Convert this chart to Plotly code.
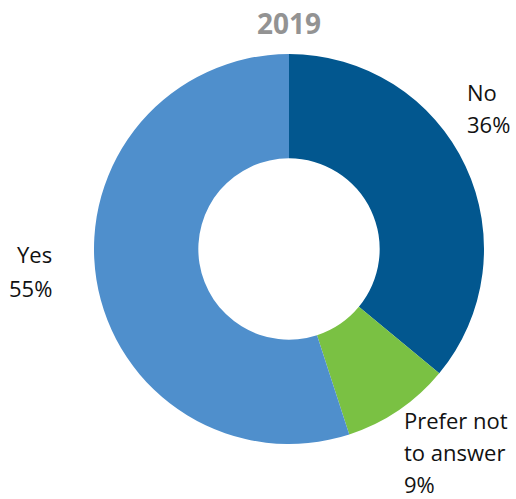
import plotly.graph_objects as go

# Survey responses, 2019
title = "2019"
labels = ["No", "Prefer not to answer", "Yes"]
label_lines = [["No"], ["Prefer not", "to answer"], ["Yes"]]
values = [36, 9, 55]
colors = ["#02578F", "#7AC143", "#4F8FCC"]

W, H = 516, 499
cx, cy, r = 289, 249, 195  # pie centre and radius in pixels

fig = go.Figure(
    go.Pie(
        labels=labels,
        values=values,
        hole=0.465,
        sort=False,
        direction="clockwise",
        rotation=0,
        marker=dict(colors=colors, line=dict(width=0)),
        textinfo="none",
        hoverinfo="label+percent",
        domain=dict(
            x=[(cx - r) / W, (cx + r) / W],
            y=[(H - cy - r) / H, (H - cy + r) / H],
        ),
        showlegend=False,
    )
)

# Outside labels: x px, y px of first line centre, line step, alignment
label_pos = [
    (465, 92, 32, "left"),
    (402, 420, 32, "left"),
    (54, 254, 34, "right"),
]
annotations = []
for lines, val, (px, py, step, align) in zip(label_lines, values, label_pos):
    for i, line in enumerate(lines + [f"{val}%"]):
        annotations.append(
            dict(
                text=line,
                x=px / W,
                y=1 - (py + i * step) / H,
                xref="paper",
                yref="paper",
                xanchor="left" if align == "left" else "right",
                yanchor="middle",
                showarrow=False,
                font=dict(family="Open Sans, sans-serif", size=22, color="#111111"),
            )
        )

annotations.append(
    dict(
        text=f"<b>{title}</b>",
        x=cx / W,
        y=1 - 23 / H,
        xref="paper",
        yref="paper",
        xanchor="center",
        yanchor="middle",
        showarrow=False,
        font=dict(family="Open Sans, sans-serif", size=28, color="#939393"),
    )
)

fig.update_layout(
    width=W,
    height=H,
    margin=dict(l=0, r=0, t=0, b=0),
    paper_bgcolor="white",
    plot_bgcolor="white",
    annotations=annotations,
)

fig.write_html("out.html")
